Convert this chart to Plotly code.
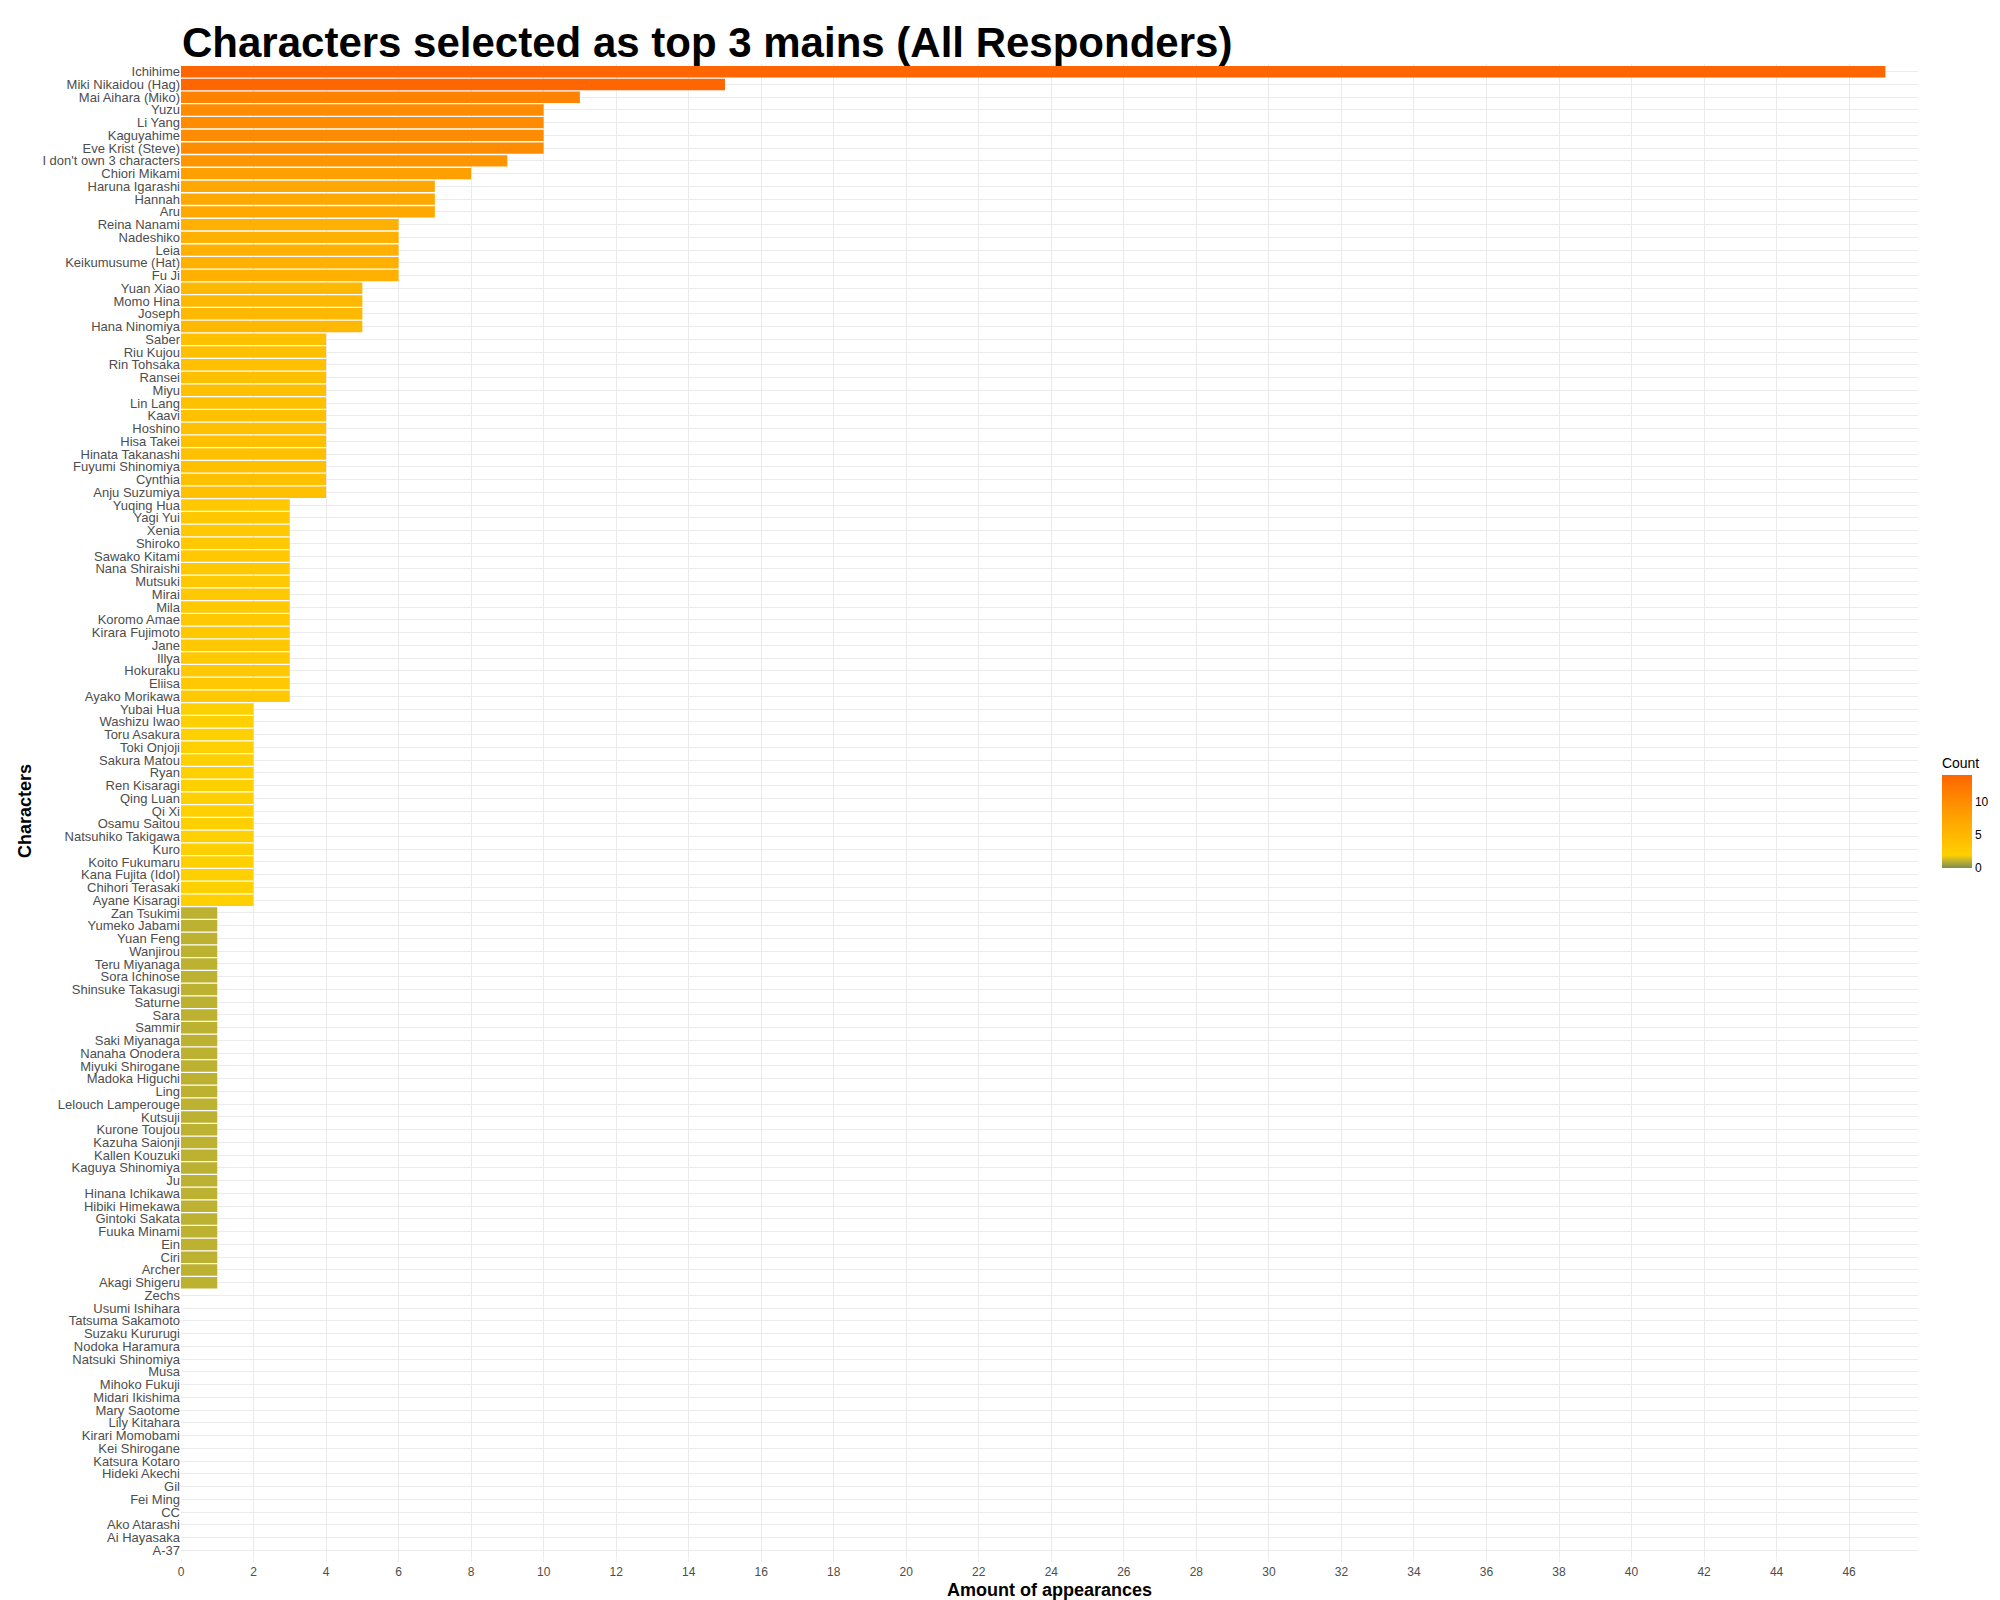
import plotly.graph_objects as go

characters = ["Ichihime","Miki Nikaidou (Hag)","Mai Aihara (Miko)","Yuzu","Li Yang","Kaguyahime","Eve Krist (Steve)","I don't own 3 characters","Chiori Mikami","Haruna Igarashi","Hannah","Aru","Reina Nanami","Nadeshiko","Leia","Keikumusume (Hat)","Fu Ji","Yuan Xiao","Momo Hina","Joseph","Hana Ninomiya","Saber","Riu Kujou","Rin Tohsaka","Ransei","Miyu","Lin Lang","Kaavi","Hoshino","Hisa Takei","Hinata Takanashi","Fuyumi Shinomiya","Cynthia","Anju Suzumiya","Yuqing Hua","Yagi Yui","Xenia","Shiroko","Sawako Kitami","Nana Shiraishi","Mutsuki","Mirai","Mila","Koromo Amae","Kirara Fujimoto","Jane","Illya","Hokuraku","Eliisa","Ayako Morikawa","Yubai Hua","Washizu Iwao","Toru Asakura","Toki Onjoji","Sakura Matou","Ryan","Ren Kisaragi","Qing Luan","Qi Xi","Osamu Saitou","Natsuhiko Takigawa","Kuro","Koito Fukumaru","Kana Fujita (Idol)","Chihori Terasaki","Ayane Kisaragi","Zan Tsukimi","Yumeko Jabami","Yuan Feng","Wanjirou","Teru Miyanaga","Sora Ichinose","Shinsuke Takasugi","Saturne","Sara","Sammir","Saki Miyanaga","Nanaha Onodera","Miyuki Shirogane","Madoka Higuchi","Ling","Lelouch Lamperouge","Kutsuji","Kurone Toujou","Kazuha Saionji","Kallen Kouzuki","Kaguya Shinomiya","Ju","Hinana Ichikawa","Hibiki Himekawa","Gintoki Sakata","Fuuka Minami","Ein","Ciri","Archer","Akagi Shigeru","Zechs","Usumi Ishihara","Tatsuma Sakamoto","Suzaku Kururugi","Nodoka Haramura","Natsuki Shinomiya","Musa","Mihoko Fukuji","Midari Ikishima","Mary Saotome","Lily Kitahara","Kirari Momobami","Kei Shirogane","Katsura Kotaro","Hideki Akechi","Gil","Fei Ming","CC","Ako Atarashi","Ai Hayasaka","A-37"]
counts = [47,15,11,10,10,10,10,9,8,7,7,7,6,6,6,6,6,5,5,5,5] + [4]*13 + [3]*16 + [2]*16 + [1]*30 + [0]*21

cats = characters[::-1]
vals = counts[::-1]

fig = go.Figure(go.Bar(
    x=vals, y=cats, orientation="h",
    marker=dict(color=vals, cmin=0, cmax=14,
                colorscale=[[0, "#7d8c4c"], [0.07, "#bcb032"], [0.14, "#ffd000"], [0.5, "#ffa800"], [1, "#ff6600"]],
                line=dict(width=0),
                colorbar=dict(title=dict(text="Count", font=dict(size=14, color="black")),
                              tickvals=[0, 5, 10], len=0.09, lenmode="fraction", thickness=30,
                              x=1.008, xanchor="left", y=0.5, yanchor="middle",
                              outlinewidth=0, tickfont=dict(size=12, color="black"))),
    width=0.9, showlegend=False,
))

fig.update_layout(
    width=2000, height=1600, plot_bgcolor="white", paper_bgcolor="white",
    font=dict(family="Liberation Sans, Arial", color="#4d4d4d"),
    title=dict(text="<b>Characters selected as top 3 mains (All Responders)</b>", x=0.087, xanchor="left",
               y=0.988, font=dict(size=42, color="black")),
    margin=dict(l=173, r=74, t=56, b=42),
    bargap=0.1,
)
fig.update_xaxes(range=[0, 47.9], dtick=2, showgrid=True, gridcolor="#ebebeb", zeroline=False,
                 tickfont=dict(size=12, color="#4d4d4d"), ticks="outside", ticklen=3, tickcolor="#ebebeb",
                 title=dict(text="<b>Amount of appearances</b>", font=dict(size=18, color="black"), standoff=4))
fig.update_yaxes(showgrid=True, gridcolor="#ebebeb", tickfont=dict(size=13, color="#4d4d4d"),
                 dtick=1, range=[-0.6, len(cats) - 0.4], ticklen=0,
                 title=dict(text="<b>Characters</b>", font=dict(size=18, color="black"), standoff=6))
fig.write_html("out.html")
